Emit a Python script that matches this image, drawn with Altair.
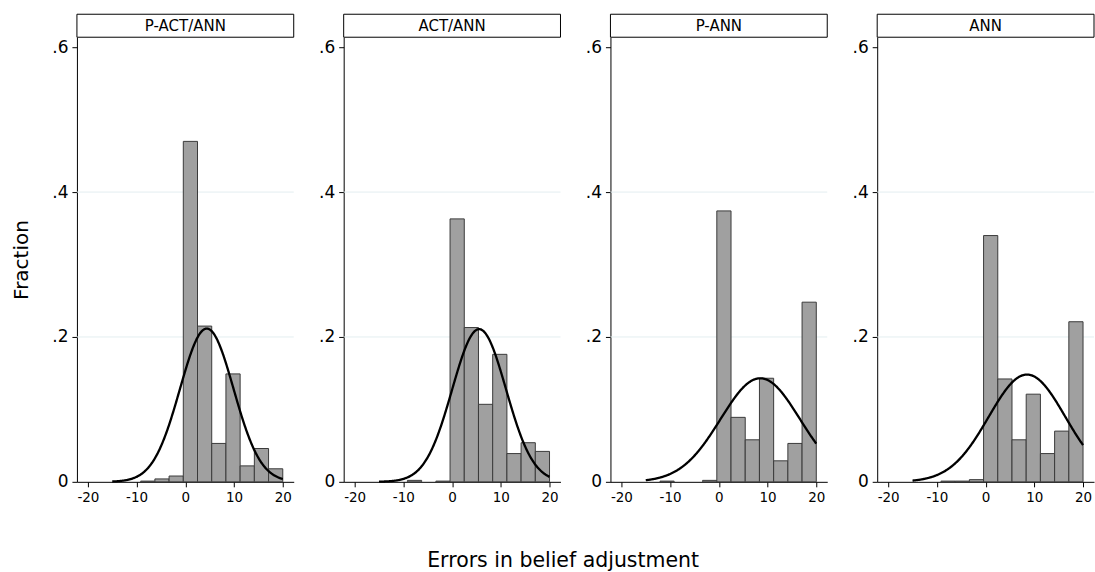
import altair as alt
import pandas as pd

# ---------------- data ----------------
panel_labels = ["P-ACT/ANN", "ACT/ANN", "P-ANN", "ANN"]

bin_start = -15.0
bin_end = 20.0
n_bins = 12

frac_p_act_ann = [0.0, 0.0, 0.001, 0.004, 0.008, 0.470, 0.215, 0.053, 0.149, 0.022, 0.046, 0.018]
frac_act_ann = [0.0, 0.0, 0.002, 0.0, 0.001, 0.363, 0.213, 0.107, 0.176, 0.039, 0.054, 0.042]
frac_p_ann = [0.0, 0.001, 0.0, 0.0, 0.002, 0.374, 0.089, 0.058, 0.143, 0.029, 0.053, 0.248]
frac_ann = [0.0, 0.0, 0.001, 0.001, 0.003, 0.340, 0.142, 0.058, 0.121, 0.039, 0.070, 0.221]
fractions = [frac_p_act_ann, frac_act_ann, frac_p_ann, frac_ann]

# fitted normal overlay (mean, sd) per panel
curve_mean = [4.4, 5.55, 8.5, 8.5]
curve_sd = [5.5, 5.52, 8.14, 7.86]

x_ticks = [-20, -10, 0, 10, 20]
y_ticks = [0, 0.2, 0.4, 0.6]
y_grid = [0.2, 0.4]

# ---------------- styling ----------------
FONT = "DejaVu Sans"
W = 217
H = 445
HEAD = 23
X_DOMAIN = [-22.25, 22.25]
Y_DOMAIN = [0, 0.6138]


def panel(i):
    bw = (bin_end - bin_start) / n_bins
    df = pd.DataFrame({
        "x0": [bin_start + k * bw for k in range(n_bins)],
        "x1": [bin_start + (k + 1) * bw for k in range(n_bins)],
        "frac": fractions[i],
    })
    df = df[df["frac"] > 0]

    xs = alt.Scale(domain=X_DOMAIN, nice=False, zero=False)
    ys = alt.Scale(domain=Y_DOMAIN, nice=False)

    xaxis = alt.Axis(
        values=x_ticks,
        title="",
        labelExpr="datum.value < 0 ? '-' + abs(datum.value) : '' + datum.value",
        labelFontSize=13.5,
        labelPadding=4,
        grid=False,
    )
    ykw = dict(
        values=y_ticks,
        labelExpr="datum.value == 0 ? '0' : '.' + round(datum.value * 10)",
        labelFontSize=17,
        labelPadding=4,
        grid=False,
    )
    if i == 0:
        ykw.update(title="Fraction", titleFontSize=20, titlePadding=20,
                   titleFontWeight="normal", titleFont=FONT, titleColor="black")
    else:
        ykw.update(title="")
    yaxis = alt.Axis(**ykw)

    grid = alt.Chart(pd.DataFrame({"g": y_grid})).mark_rule(
        color="#e3eef0", strokeWidth=1
    ).encode(
        y=alt.Y("g:Q", scale=ys, axis=yaxis),
        x=alt.value(0),
        x2=alt.value(W),
    )

    bars = alt.Chart(df).mark_rect(
        fill="#a0a0a0", stroke="#3a3a3a", strokeWidth=1
    ).encode(
        x=alt.X("x0:Q", scale=xs, axis=xaxis),
        x2="x1:Q",
        y=alt.Y("frac:Q", scale=ys, axis=yaxis),
        y2=alt.datum(0),
    )

    mu = curve_mean[i]
    sd = curve_sd[i]
    curve = alt.Chart(alt.sequence(bin_start, bin_end + 0.01, 0.1, as_="x")).transform_calculate(
        y=f"{bw} * exp(-0.5 * pow((datum.x - {mu}) / {sd}, 2)) / ({sd} * sqrt(2 * PI))"
    ).mark_line(color="black", strokeWidth=2.3).encode(
        x=alt.X("x:Q", scale=xs, axis=xaxis),
        y=alt.Y("y:Q", scale=ys, axis=yaxis),
    )

    head_df = pd.DataFrame({"label": [panel_labels[i]]})
    head_box = alt.Chart(head_df).mark_rect(
        fill="white", stroke="black", strokeWidth=1
    ).encode(
        x=alt.value(0), x2=alt.value(W),
        y=alt.value(-HEAD), y2=alt.value(0),
    )
    head_text = alt.Chart(head_df).mark_text(
        font=FONT, fontSize=15, color="black", baseline="middle", align="center"
    ).encode(
        text="label:N",
        x=alt.value(W / 2),
        y=alt.value(-HEAD / 2),
    )

    return alt.layer(grid, bars, curve, head_box, head_text).properties(width=W, height=H)


chart = alt.hconcat(
    *[panel(i) for i in range(4)], spacing=50, bounds="flush"
).properties(
    title=alt.TitleParams(
        "Errors in belief adjustment", orient="bottom", anchor="middle",
        fontSize=20.5, font=FONT, fontWeight="normal", color="black", dx=10, offset=47,
    ),
    padding={"left": 11, "top": 13, "right": 0, "bottom": 0},
).configure_view(
    strokeWidth=0
).configure_axis(
    domainColor="black", tickColor="black", labelColor="black",
    labelFont=FONT, titleFont=FONT, tickSize=5, domainWidth=1, tickWidth=1,
)

chart.save("out.html", embed_options={"renderer": "svg", "actions": False})
